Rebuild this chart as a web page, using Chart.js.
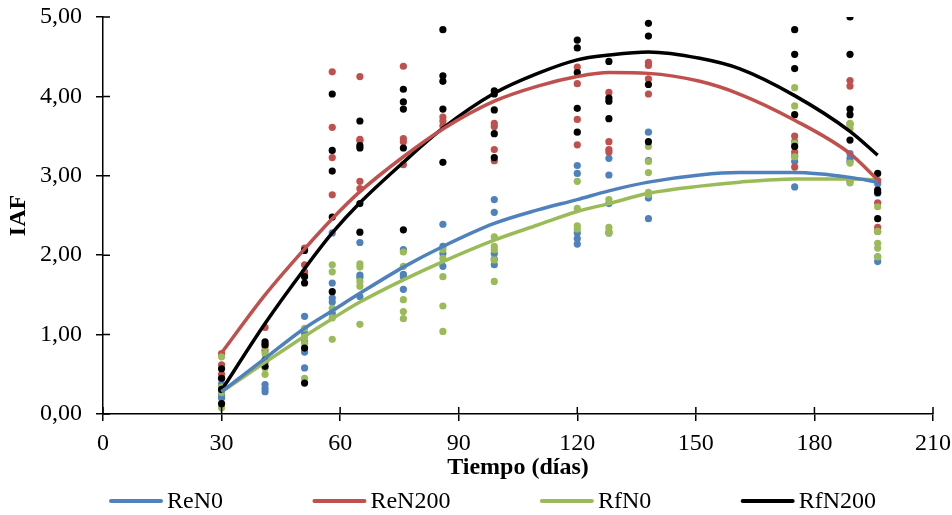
<!DOCTYPE html>
<html>
<head>
<meta charset="utf-8">
<script src="https://cdn.jsdelivr.net/npm/chart.js@4/dist/chart.umd.min.js"></script>
<style>
  body { margin: 0; background: #ffffff; }
  #wrap { width: 952px; height: 515px; }
</style>
</head>
<body>
<div id="wrap"><canvas id="iafChart" width="952" height="515"></canvas></div>
<script>
// sampling days
const dias = [30, 41, 51, 58, 65, 76, 86, 99, 120, 128, 138, 175, 189, 196];

// observed IAF values, one list per sampling day
const reN0 = [
  [0.38, 0.30, 0.24, 0.20], [0.37, 0.32, 0.28], [1.23, 1.02, 0.91, 0.78, 0.58],
  [2.28, 1.65, 1.46, 1.41, 1.27], [2.16, 1.75, 1.72, 1.48], [2.07, 1.76, 1.73, 1.57],
  [2.39, 2.11, 2.02, 1.86], [2.70, 2.54, 2.02, 1.95, 1.88], [3.13, 3.03, 2.28, 2.21, 2.14],
  [3.22, 3.01, 2.65, 2.28], [3.55, 3.19, 2.72, 2.46], [3.43, 3.25, 3.18, 2.86],
  [3.28, 3.22, 3.18], [2.90, 2.78, 1.98, 1.92]
];
const reN200 = [
  [0.76, 0.62, 0.50, 0.45], [1.09, 0.88, 0.80, 0.65], [2.09, 1.88, 1.79, 1.75],
  [4.31, 3.61, 3.23, 2.76], [4.25, 3.46, 3.44, 2.93, 2.84], [4.38, 3.47, 3.43, 3.14],
  [3.74, 3.69, 3.63], [3.66, 3.62, 3.33, 3.19], [4.37, 4.16, 3.71, 3.39],
  [4.05, 3.43, 3.33, 3.30], [4.43, 4.39, 4.22, 4.03], [3.50, 3.30, 3.11],
  [4.20, 4.13, 3.65, 2.93], [2.94, 2.66, 2.35, 2.30]
];
const rfN0 = [
  [0.72, 0.34, 0.27, 0.08], [0.84, 0.76, 0.58, 0.50], [1.08, 0.97, 0.89, 0.45],
  [1.88, 1.79, 1.33, 1.21, 0.94], [1.89, 1.85, 1.67, 1.61, 1.13], [2.04, 1.86, 1.44, 1.29, 1.20],
  [2.07, 1.96, 1.73, 1.36, 1.04], [2.23, 2.11, 2.07, 1.94, 1.67], [2.93, 2.59, 2.37, 2.33],
  [2.70, 2.35, 2.30, 2.28], [3.37, 3.18, 3.04, 2.79, 2.76], [4.11, 3.88, 3.41, 3.24],
  [3.66, 3.60, 3.16, 2.91], [2.61, 2.30, 2.15, 2.09, 1.98]
];
const rfN200 = [
  [0.57, 0.45, 0.31, 0.13], [0.91, 0.87, 0.68, 0.60], [2.06, 1.73, 1.65, 0.83, 0.39],
  [4.03, 3.32, 3.06, 2.48, 1.54], [3.69, 3.38, 3.35, 2.65, 2.29], [4.09, 3.93, 3.84, 3.35, 2.32],
  [4.84, 4.26, 4.19, 3.84, 3.17], [4.07, 4.03, 3.83, 3.53, 3.23], [4.71, 4.61, 4.30, 3.85, 3.55],
  [4.44, 3.98, 3.94, 3.72], [4.92, 4.76, 4.15, 3.43], [4.84, 4.53, 4.35, 3.77, 3.37],
  [5.00, 4.53, 3.84, 3.77, 3.45], [3.03, 2.82, 2.79, 2.46]
];

// polynomial trend lines
const diasTend = [30, 41, 51, 58, 65, 76, 86, 99, 110, 120, 128, 138, 151, 161, 175, 189, 196];
const tendReN0   = [0.28, 0.70, 1.08, 1.30, 1.52, 1.85, 2.11, 2.40, 2.57, 2.70, 2.81, 2.92, 3.01, 3.04, 3.04, 2.98, 2.92];
const tendReN200 = [0.77, 1.50, 2.08, 2.46, 2.80, 3.24, 3.59, 3.94, 4.13, 4.25, 4.30, 4.29, 4.19, 4.03, 3.70, 3.28, 2.95];
const tendRfN0   = [0.28, 0.65, 0.98, 1.20, 1.41, 1.69, 1.92, 2.19, 2.38, 2.55, 2.65, 2.78, 2.87, 2.92, 2.96, 2.96, 2.95];
const tendRfN200 = [0.30, 1.14, 1.83, 2.28, 2.66, 3.17, 3.60, 4.04, 4.29, 4.46, 4.52, 4.56, 4.48, 4.35, 4.01, 3.56, 3.26];

const series = [
  { name: "ReN0",   color: "#4F81BD", obs: reN0,   trend: tendReN0 },
  { name: "ReN200", color: "#C0504D", obs: reN200, trend: tendReN200 },
  { name: "RfN0",   color: "#9BBB59", obs: rfN0,   trend: tendRfN0 },
  { name: "RfN200", color: "#000000", obs: rfN200, trend: tendRfN200 }
];

const FONT = "'Liberation Serif', 'Times New Roman', serif";
const FS = 24;

function toPoints(obs) {
  const pts = [];
  obs.forEach((vals, i) => vals.forEach((v) => pts.push({ x: dias[i], y: v })));
  return pts;
}

const datasets = [];
series.forEach((s, i) => {
  datasets.push({
    type: "line",
    label: s.name,
    data: diasTend.map((d, k) => ({ x: d, y: s.trend[k] })),
    borderColor: s.color,
    backgroundColor: s.color,
    borderWidth: 3.5,
    pointRadius: 0,
    cubicInterpolationMode: "monotone",
    fill: false,
    order: 0
  });
  datasets.push({
    type: "scatter",
    label: s.name + " obs",
    data: toPoints(s.obs),
    backgroundColor: s.color,
    borderWidth: 0,
    pointRadius: 3.6,
    order: 4 - i
  });
});

// tick marks that cross the axis line (outside part is drawn by the grid)
const crossTicks = {
  id: "crossTicks",
  afterDraw(chart) {
    const { ctx, chartArea, scales } = chart;
    ctx.save();
    ctx.strokeStyle = "#000";
    ctx.lineWidth = 1.5;
    ctx.beginPath();
    scales.x.ticks.forEach((t) => {
      const px = scales.x.getPixelForValue(t.value);
      ctx.moveTo(px, chartArea.bottom);
      ctx.lineTo(px, chartArea.bottom - 7);
    });
    scales.y.ticks.forEach((t) => {
      const py = scales.y.getPixelForValue(t.value);
      ctx.moveTo(chartArea.left, py);
      ctx.lineTo(chartArea.left + 7, py);
    });
    ctx.stroke();
    ctx.restore();
  }
};

// legend in one row with wide gaps, like the original
const wideLegend = {
  id: "wideLegend",
  afterDraw(chart) {
    const ctx = chart.ctx;
    const y = 501, lineLen = 54, startX = 109, endX = 876;
    ctx.save();
    ctx.font = FS + "px " + FONT;
    ctx.textBaseline = "middle";
    const widths = series.map((s) => lineLen + 4 + ctx.measureText(s.name).width);
    const gap = (endX - startX - widths.reduce((a, b) => a + b, 0)) / (series.length - 1);
    let x = startX;
    series.forEach((s, i) => {
      ctx.strokeStyle = s.color;
      ctx.lineWidth = 4;
      ctx.lineCap = "round";
      ctx.beginPath();
      ctx.moveTo(x + 2, y);
      ctx.lineTo(x + lineLen - 2, y);
      ctx.stroke();
      ctx.fillStyle = "#000";
      ctx.fillText(s.name, x + lineLen + 4, y + 1);
      x += widths[i] + gap;
    });
    ctx.restore();
  }
};

new Chart(document.getElementById("iafChart"), {
  data: { datasets: datasets },
  options: {
    responsive: false,
    animation: false,
    layout: { padding: { top: 17, right: 19, left: 0, bottom: 33 } },
    scales: {
      x: {
        type: "linear",
        min: 0,
        max: 210,
        ticks: { stepSize: 30, color: "#000", font: { family: FONT, size: FS }, padding: 8 },
        grid: { drawOnChartArea: false, color: "#000", lineWidth: 1.5, tickLength: 7 },
        border: { color: "#000", width: 1.5 },
        title: { display: true, text: "Tiempo (días)", color: "#000", font: { family: FONT, size: FS, weight: "bold" }, padding: { top: 0, bottom: 0 } },
        afterFit(scale) {
          scale.height = 68;
          scale.paddingLeft = 0;
          scale.paddingRight = 0;
        }
      },
      y: {
        min: 0,
        max: 5,
        ticks: {
          stepSize: 1,
          color: "#000",
          font: { family: FONT, size: FS },
          padding: 14,
          callback: (v) => v.toFixed(2).replace(".", ",")
        },
        grid: { drawOnChartArea: false, color: "#000", lineWidth: 1.5, tickLength: 7 },
        border: { color: "#000", width: 1.5 },
        title: { display: true, text: "IAF", color: "#000", font: { family: FONT, size: FS, weight: "bold" }, padding: { top: 4, bottom: 0 } },
        afterFit(scale) {
          scale.width = 103;
          scale.paddingTop = 0;
          scale.paddingBottom = 0;
        }
      }
    },
    plugins: {
      tooltip: { enabled: false },
      legend: { display: false }
    }
  },
  plugins: [crossTicks, wideLegend]
});
</script>
</body>
</html>
